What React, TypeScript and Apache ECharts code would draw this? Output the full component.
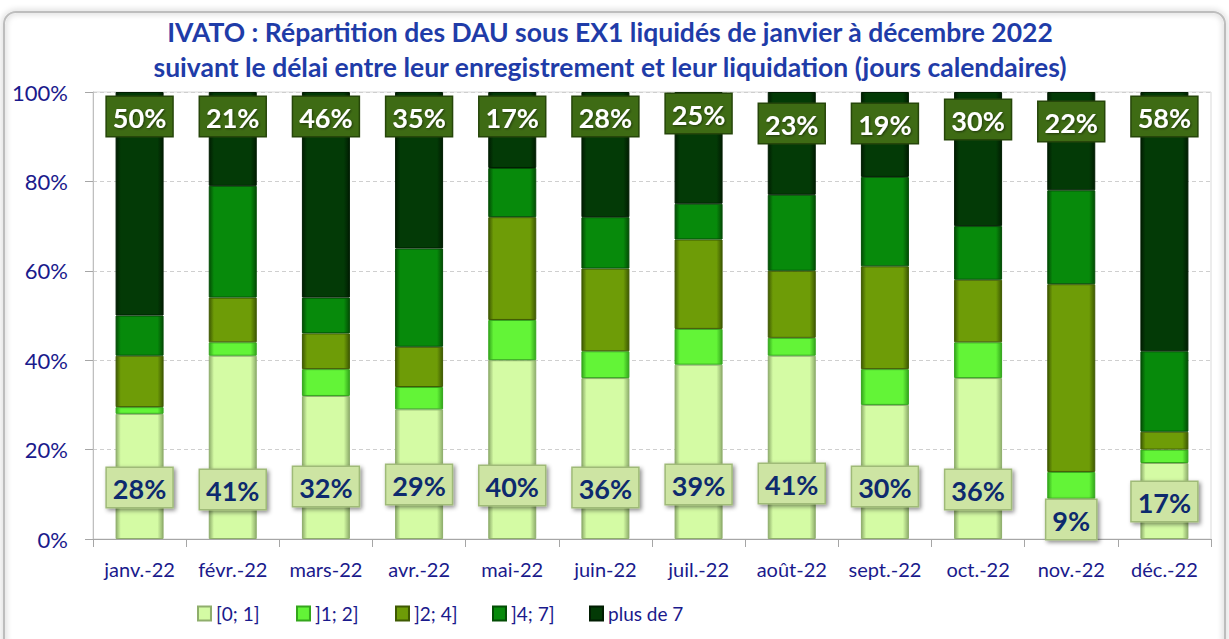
import React, { useEffect, useRef } from "react";
import * as echarts from "echarts";

const months = ["janv.-22", "févr.-22", "mars-22", "avr.-22", "mai-22", "juin-22", "juil.-22", "août-22", "sept.-22", "oct.-22", "nov.-22", "déc.-22"];
const seriesNames = ["[0; 1]", "]1; 2]", "]2; 4]", "]4; 7]", "plus de 7"];
const d0_1 = [28, 41, 32, 29, 40, 36, 39, 41, 30, 36, 9, 17];
const d1_2 = [1.5, 3, 6, 5, 9, 6, 8, 4, 8, 8, 6, 3];
const d2_4 = [11.5, 10, 8, 9, 23, 18.5, 20, 15, 23, 14, 42, 4];
const d4_7 = [9, 25, 8, 22, 11, 11.5, 8, 17, 20, 12, 21, 18];
const dPlus7 = [50, 21, 46, 35, 17, 28, 25, 23, 19, 30, 22, 58];
const yTicks = [0, 20, 40, 60, 80, 100];

// layout tweaks (pixels)
const bottomLabelShift = [0, 2, -1, -3, -2, 0, -3, -4, -1, 2, 32, 14];
const topLabelShift = [0, 0, 0, 0, 0, 0, -3, 7, 7, 3, 5, 0];
const legendLefts = [192, 291, 390, 487, 584];

const colors = [
  { base: "#d4fba4", edge: "#8fae6c" },
  { base: "#63f437", edge: "#34a61c" },
  { base: "#6e9c07", edge: "#3f5a02" },
  { base: "#078a0b", edge: "#034d05" },
  { base: "#033a06", edge: "#011d02" },
];

const FONT = "Lato, 'Open Sans', sans-serif";

function grad(c: { base: string; edge: string }) {
  return new echarts.graphic.LinearGradient(0, 0, 1, 0, [
    { offset: 0, color: c.edge },
    { offset: 0.1, color: c.base },
    { offset: 0.88, color: c.base },
    { offset: 1, color: c.edge },
  ]);
}

export default function App() {
  const ref = useRef<HTMLDivElement>(null);
  useEffect(() => {
    if (!ref.current) return;
    const chart = echarts.init(ref.current, null, { renderer: "svg" });
    const all = [d0_1, d1_2, d2_4, d4_7, dPlus7];
    const series: any[] = all.map((arr, si) => {
      const s: any = {
        name: seriesNames[si],
        type: "bar",
        stack: "total",
        barWidth: 48,
        itemStyle: {
          color: grad(colors[si]),
          borderColor: colors[si].edge,
          borderWidth: 1,
        },
        emphasis: { disabled: true },
        data: arr.map((v) => v),
      };
      if (si === 0) {
        s.data = arr.map((v, i) => ({
          value: v,
          label: { offset: [0, bottomLabelShift[i]] },
        }));
        s.label = {
          show: true,
          position: "insideBottom",
          distance: 32,
          formatter: (p: any) => Math.round(p.value) + "%",
          fontFamily: FONT,
          fontWeight: "bold",
          fontSize: 27,
          lineHeight: 32,
          color: "#0d2a6e",
          backgroundColor: "#cde4a3",
          borderColor: "#9fba78",
          borderWidth: 1.5,
          padding: [4, 6, 3, 6],
          shadowColor: "rgba(0,0,0,0.45)",
          shadowBlur: 4,
          shadowOffsetX: 2,
          shadowOffsetY: 2,
        };
      }
      if (si === 4) {
        s.data = arr.map((v, i) => ({
          value: v,
          label: { offset: [0, topLabelShift[i]] },
        }));
        s.label = {
          show: true,
          position: "insideTop",
          distance: 5,
          formatter: (p: any) => Math.round(p.value) + "%",
          fontFamily: FONT,
          fontWeight: "bold",
          fontSize: 27,
          lineHeight: 32,
          color: "#ffffff",
          backgroundColor: "#3e6b14",
          borderColor: "#26460a",
          borderWidth: 1.5,
          padding: [4, 6, 3, 6],
          textShadowColor: "rgba(0,0,0,0.5)",
          textShadowBlur: 2,
          textShadowOffsetX: 1,
          textShadowOffsetY: 1,
        };
      }
      return s;
    });

    const legends = seriesNames.map((name, i) => ({
      data: [name],
      left: legendLefts[i],
      top: 599,
      itemWidth: 13,
      itemHeight: 14,
      icon: "rect",
      selectedMode: false,
      textStyle: {
        fontFamily: FONT,
        fontSize: 19,
        color: "#1a1a8c",
      },
    }));

    chart.setOption({
      animation: false,
      backgroundColor: "#ffffff",
      graphic: [
        {
          type: "rect",
          shape: { x: 4, y: 12, width: 1221, height: 640, r: 12 },
          style: {
            fill: "none",
            stroke: "#bdbdbd",
            lineWidth: 2,
            shadowColor: "rgba(0,0,0,0.35)",
            shadowBlur: 6,
          },
          silent: true,
          z: -10,
        },
      ],
      title: {
        text: "IVATO : Répartition des DAU sous EX1 liquidés de janvier à décembre 2022\nsuivant le délai entre leur enregistrement et leur liquidation (jours calendaires)",
        left: 605,
        textAlign: "center",
        top: 9,
        textStyle: {
          fontFamily: FONT,
          fontWeight: "bold",
          fontSize: 26.5,
          lineHeight: 35,
          color: "#1f3ca8",
        },
      },
      legend: legends,
      grid: {
        left: 93,
        right: 18,
        top: 92,
        bottom: 100,
        show: true,
        borderColor: "#d9d9d9",
        borderWidth: 1,
      },
      xAxis: {
        type: "category",
        data: months,
        axisLine: { lineStyle: { color: "#a6a6a6" } },
        axisTick: { show: true, length: 8, lineStyle: { color: "#a6a6a6" } },
        axisLabel: {
          fontFamily: FONT,
          fontSize: 20,
          color: "#1a1a8c",
          margin: 20,
          interval: 0,
        },
      },
      yAxis: {
        type: "value",
        min: 0,
        max: 100,
        interval: 20,
        axisLine: { show: true, lineStyle: { color: "#bfbfbf" } },
        axisTick: { show: true, length: 8, lineStyle: { color: "#a6a6a6" } },
        splitLine: { lineStyle: { color: "#cfcfcf", type: [4, 3] } },
        axisLabel: {
          fontFamily: FONT,
          fontSize: 22,
          color: "#1a1a8c",
          margin: 25,
          formatter: (v: number) => (yTicks.includes(v) ? v + "%" : ""),
        },
      },
      series,
    });
    return () => chart.dispose();
  }, []);
  return (
    <div
      ref={ref}
      style={{ position: "fixed", left: 0, top: 0, width: 1229, height: 639, background: "#fff" }}
    />
  );
}
